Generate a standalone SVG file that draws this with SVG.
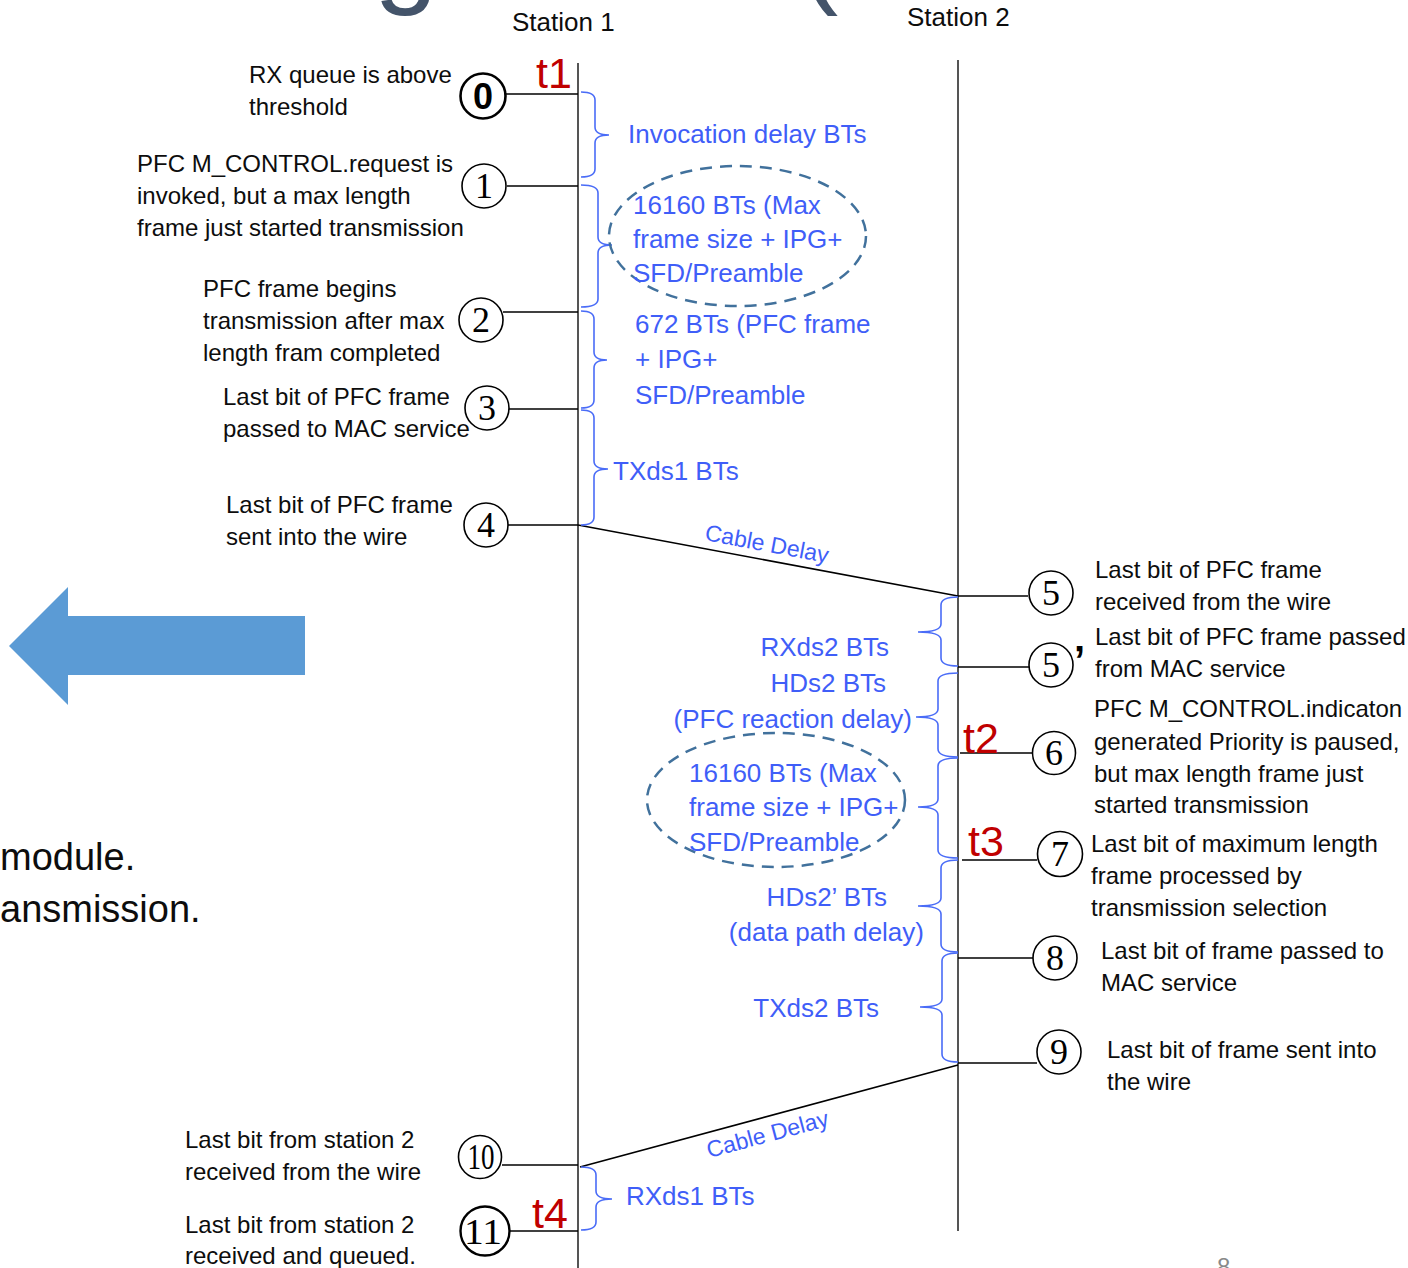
<svg xmlns="http://www.w3.org/2000/svg" width="1408" height="1268" viewBox="0 0 1408 1268">
<style>
text{font-family:"Liberation Sans",Arial,sans-serif}
.blk{font-size:24px;fill:#0d0d0d}
.blu{font-size:26px;fill:#3F5EF8}
.red{font-size:43px;fill:#C00000}
.sta{font-size:26px;fill:#0d0d0d}
.num{font-family:"Liberation Serif","Times New Roman",serif;font-size:36px;fill:#000;text-anchor:middle}
.circ{fill:#fff;stroke:#000;stroke-width:1.6}
.evt{stroke:#000;stroke-width:1.5;fill:none}
.stl{stroke:#555;stroke-width:2;fill:none}
.br{stroke:#4A6CF7;stroke-width:1.6;fill:none}
.ell{fill:none;stroke:#41719C;stroke-width:2.5;stroke-dasharray:12 8}
.cab{font-size:23px;fill:#3F5EF8}
</style>
<rect width="1408" height="1268" fill="#fff"/>
<g id="title">
<text x="374" y="-8" font-size="115" fill="#44546A">g</text>
<text x="800" y="-8" font-size="115" fill="#44546A">(</text>
</g>
<g id="stations">
<text class="sta" x="512" y="31">Station 1</text>
<text class="sta" x="907" y="26">Station 2</text>
</g>
<g id="connectors">
<line class="stl" x1="578" y1="63" x2="578" y2="1268"/>
<line class="stl" x1="958" y1="60" x2="958" y2="1231"/>
<line class="evt" x1="506" y1="94" x2="578" y2="94"/>
<line class="evt" x1="507" y1="186" x2="578" y2="186"/>
<line class="evt" x1="503" y1="312" x2="578" y2="312"/>
<line class="evt" x1="509" y1="409" x2="578" y2="409"/>
<line class="evt" x1="508" y1="525" x2="578" y2="525"/>
<line class="evt" x1="578" y1="525" x2="958" y2="596"/>
<line class="evt" x1="958" y1="596" x2="1028" y2="596"/>
<line class="evt" x1="958" y1="667" x2="1029" y2="667"/>
<line class="evt" x1="960" y1="753" x2="1032" y2="753"/>
<line class="evt" x1="962" y1="860" x2="1037" y2="860"/>
<line class="evt" x1="958" y1="958" x2="1033" y2="958"/>
<line class="evt" x1="958" y1="1063" x2="1037" y2="1063"/>
<line class="evt" x1="958" y1="1065" x2="580" y2="1167"/>
<line class="evt" x1="502" y1="1165" x2="578" y2="1165"/>
<line class="evt" x1="503" y1="1231" x2="578" y2="1231"/>
<text class="cab" transform="translate(704 540) rotate(10.6)">Cable Delay</text>
<text class="cab" transform="translate(709 1158) rotate(-15)">Cable Delay</text>
<!-- braces station 1 -->
<path class="br" d="M581 92 Q595 92 595 100 V127 Q595 135 609 135 M609 135 Q595 135 595 143 V169 Q595 177 581 177"/>
<path class="br" d="M581 185 Q598 185 598 193 V237 Q598 245 612 245 M612 245 Q598 245 598 253 V299 Q598 307 581 307"/>
<path class="br" d="M581 311 Q594 311 594 319 V352 Q594 360 607 360 M607 360 Q594 360 594 368 V400 Q594 408 581 408"/>
<path class="br" d="M581 410 Q594 410 594 418 V461 Q594 469 608 469 M608 469 Q594 469 594 477 V517 Q594 525 581 525"/>
<path class="br" d="M581 1167 Q596 1167 596 1175 V1191 Q596 1199 612 1199 M612 1199 Q596 1199 596 1207 V1222 Q596 1230 581 1230"/>
<!-- braces station 2 -->
<path class="br" d="M958 597 Q941 597 941 605 V624 Q941 632 918 632 M918 632 Q941 632 941 640 V658 Q941 666 958 666"/>
<path class="br" d="M958 673 Q938 673 938 681 V709 Q938 717 916 717 M916 717 Q938 717 938 725 V749 Q938 757 958 757"/>
<path class="br" d="M958 758 Q938 758 938 766 V799 Q938 807 918 807 M918 807 Q938 807 938 815 V850 Q938 858 958 858"/>
<path class="br" d="M958 860 Q941 860 941 868 V898 Q941 906 918 906 M918 906 Q941 906 941 914 V944 Q941 952 958 952"/>
<path class="br" d="M958 953 Q942 953 942 961 V999 Q942 1007 920 1007 M920 1007 Q942 1007 942 1015 V1054 Q942 1062 958 1062"/>
</g>
<g id="delays1">
<text class="blu" x="628" y="143">Invocation delay BTs</text>
<ellipse class="ell" cx="737.5" cy="236" rx="128.5" ry="70"/>
<text class="blu" x="633" y="214">16160 BTs (Max</text>
<text class="blu" x="633" y="248">frame size + IPG+</text>
<text class="blu" x="633" y="282">SFD/Preamble</text>
<text class="blu" x="635" y="333">672 BTs (PFC frame</text>
<text class="blu" x="635" y="368">+ IPG+</text>
<text class="blu" x="635" y="404">SFD/Preamble</text>
<text class="blu" x="613" y="480">TXds1 BTs</text>
<text class="blu" x="626" y="1205">RXds1 BTs</text>
</g>
<g id="delays2">
<text class="blu" x="889" y="656" text-anchor="end">RXds2 BTs</text>
<text class="blu" x="886" y="692" text-anchor="end">HDs2 BTs</text>
<text class="blu" x="912" y="728" text-anchor="end">(PFC reaction delay)</text>
<ellipse class="ell" cx="776" cy="800" rx="129" ry="67"/>
<text class="blu" x="689" y="782">16160 BTs (Max</text>
<text class="blu" x="689" y="816">frame size + IPG+</text>
<text class="blu" x="689" y="851">SFD/Preamble</text>
<text class="blu" x="887" y="906" text-anchor="end">HDs2’ BTs</text>
<text class="blu" x="924" y="941" text-anchor="end">(data path delay)</text>
<text class="blu" x="879" y="1017" text-anchor="end">TXds2 BTs</text>
</g>
<g id="times">
<text class="red" x="536" y="88">t1</text>
<text class="red" x="963" y="753">t2</text>
<text class="red" x="968" y="856">t3</text>
<text class="red" x="532" y="1228">t4</text>
</g>
<g id="e0">
<circle cx="483" cy="96" r="22.5" fill="#fff" stroke="#000" stroke-width="2.6"/>
<text x="483" y="109" font-size="36" font-weight="bold" text-anchor="middle" fill="#000">0</text>
<text class="blk" x="249" y="83">RX queue is above</text>
<text class="blk" x="249" y="115">threshold</text>
</g>
<g id="e1">
<circle class="circ" cx="484" cy="186" r="22"/>
<text class="num" x="484" y="198">1</text>
<text class="blk" x="137" y="172">PFC M_CONTROL.request is</text>
<text class="blk" x="137" y="204">invoked, but a max length</text>
<text class="blk" x="137" y="236">frame just started transmission</text>
</g>
<g id="e2">
<circle class="circ" cx="481" cy="320" r="22"/>
<text class="num" x="481" y="332">2</text>
<text class="blk" x="203" y="297">PFC frame begins</text>
<text class="blk" x="203" y="329">transmission after max</text>
<text class="blk" x="203" y="361">length fram completed</text>
</g>
<g id="e3">
<circle class="circ" cx="487" cy="408" r="22"/>
<text class="num" x="487" y="420">3</text>
<text class="blk" x="223" y="405">Last bit of PFC  frame</text>
<text class="blk" x="223" y="437">passed to MAC service</text>
</g>
<g id="e4">
<circle class="circ" cx="486" cy="525" r="22"/>
<text class="num" x="486" y="537">4</text>
<text class="blk" x="226" y="513">Last bit of PFC frame</text>
<text class="blk" x="226" y="545">sent into the wire</text>
</g>
<g id="e5">
<circle class="circ" cx="1051" cy="593" r="22"/>
<text class="num" x="1051" y="605">5</text>
<text class="blk" x="1095" y="578">Last bit of PFC frame</text>
<text class="blk" x="1095" y="610">received from the wire</text>
</g>
<g id="e5p">
<circle class="circ" cx="1051" cy="665" r="22"/>
<text class="num" x="1051" y="677">5</text>
<text x="1074" y="674" font-family="Liberation Serif,serif" font-size="40" font-weight="bold" fill="#000">’</text>
<text class="blk" x="1095" y="645">Last bit of PFC frame passed</text>
<text class="blk" x="1095" y="677">from MAC service</text>
</g>
<g id="e6">
<circle class="circ" cx="1054" cy="753" r="21.5"/>
<text class="num" x="1054" y="765">6</text>
<text class="blk" x="1094" y="717">PFC M_CONTROL.indicaton</text>
<text class="blk" x="1094" y="750">generated Priority is paused,</text>
<text class="blk" x="1094" y="782">but max length frame just</text>
<text class="blk" x="1094" y="813">started transmission</text>
</g>
<g id="e7">
<circle class="circ" cx="1060" cy="854" r="22.5"/>
<text class="num" x="1060" y="866">7</text>
<text class="blk" x="1091" y="852">Last bit of maximum length</text>
<text class="blk" x="1091" y="884">frame processed by</text>
<text class="blk" x="1091" y="916">transmission selection</text>
</g>
<g id="e8">
<circle class="circ" cx="1055" cy="958" r="22"/>
<text class="num" x="1055" y="970">8</text>
<text class="blk" x="1101" y="959">Last bit of frame passed to</text>
<text class="blk" x="1101" y="991">MAC service</text>
</g>
<g id="e9">
<circle class="circ" cx="1059" cy="1052" r="22"/>
<text class="num" x="1059" y="1064">9</text>
<text class="blk" x="1107" y="1058">Last bit of frame sent into</text>
<text class="blk" x="1107" y="1090">the wire</text>
</g>
<g id="e10">
<circle class="circ" cx="480" cy="1157" r="21.5"/>
<text class="num" x="481" y="1169" textLength="27" lengthAdjust="spacingAndGlyphs">10</text>
<text class="blk" x="185" y="1148">Last bit  from station 2</text>
<text class="blk" x="185" y="1180">received from the wire</text>
</g>
<g id="e11">
<circle cx="485" cy="1231" r="24.5" fill="#fff" stroke="#000" stroke-width="2.4"/>
<text class="num" x="483" y="1244" font-size="38" textLength="38" lengthAdjust="spacingAndGlyphs">11</text>
<text class="blk" x="185" y="1233">Last bit from station 2</text>
<text class="blk" x="185" y="1264">received and queued.</text>
</g>
<g id="side">
<polygon points="9,646 68,587 68,616 305,616 305,675 68,675 68,705" fill="#5B9BD5"/>
<text x="0" y="870" font-size="38" fill="#0d0d0d">module.</text>
<text x="0" y="922" font-size="38" fill="#0d0d0d">ansmission.</text>
<text x="1217" y="1275" font-size="24" fill="#898989">8</text>
</g>
</svg>
